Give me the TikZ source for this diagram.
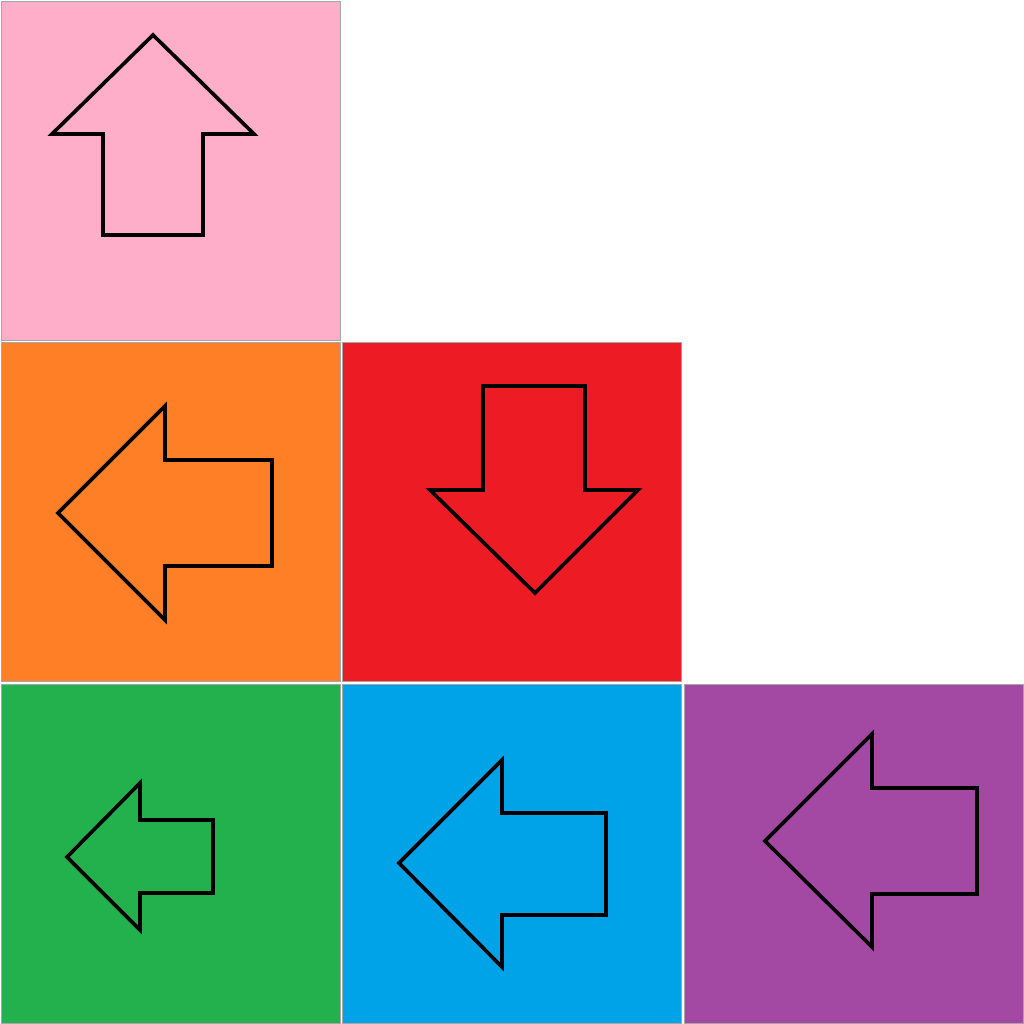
\documentclass[tikz,border=0pt]{standalone}
\definecolor{pinkc}{HTML}{FFAEC9}
\definecolor{orangec}{HTML}{FF7F27}
\definecolor{redc}{HTML}{ED1C24}
\definecolor{greenc}{HTML}{22B14C}
\definecolor{bluec}{HTML}{00A2E8}
\definecolor{purplec}{HTML}{A349A4}
\begin{document}
\begin{tikzpicture}[x=0.025cm, y=-0.025cm,
  cell/.style={draw=gray!70, line width=0.6pt, minimum size=8.47cm, inner sep=0pt},
  arr/.style={draw=black, line width=2.6pt}]
  \useasboundingbox (0,0) rectangle (1024,1024);
  % cells
  \node[cell, fill=pinkc] (pink) at (170.5,170.5) {};
  \node[cell, fill=orangec] (orange) at (170.5,512) {};
  \node[cell, fill=redc] (red) at (512,512) {};
  \node[cell, fill=greenc] (green) at (170.5,853.5) {};
  \node[cell, fill=bluec] (blue) at (512,853.5) {};
  \node[cell, fill=purplec] (purple) at (853.5,853.5) {};
  % arrows
  \draw[arr] (153,35) -- (254,134) -- (203,134) -- (203,235) -- (103,235) -- (103,134) -- (52,134) -- cycle;
  \draw[arr] (58,513) -- (165,406) -- (165,460) -- (272,460) -- (272,566) -- (165,566) -- (165,620) -- cycle;
  \draw[arr] (535,593) -- (430,490) -- (483,490) -- (483,386) -- (585,386) -- (585,490) -- (638,490) -- cycle;
  \draw[arr] (67,857) -- (140,783) -- (140,820) -- (213,820) -- (213,893) -- (140,893) -- (140,930) -- cycle;
  \draw[arr] (399,863) -- (502,760) -- (502,813) -- (606,813) -- (606,915) -- (502,915) -- (502,967) -- cycle;
  \draw[arr] (765,841) -- (872,734) -- (872,788) -- (977,788) -- (977,894) -- (872,894) -- (872,947) -- cycle;
\end{tikzpicture}
\end{document}
